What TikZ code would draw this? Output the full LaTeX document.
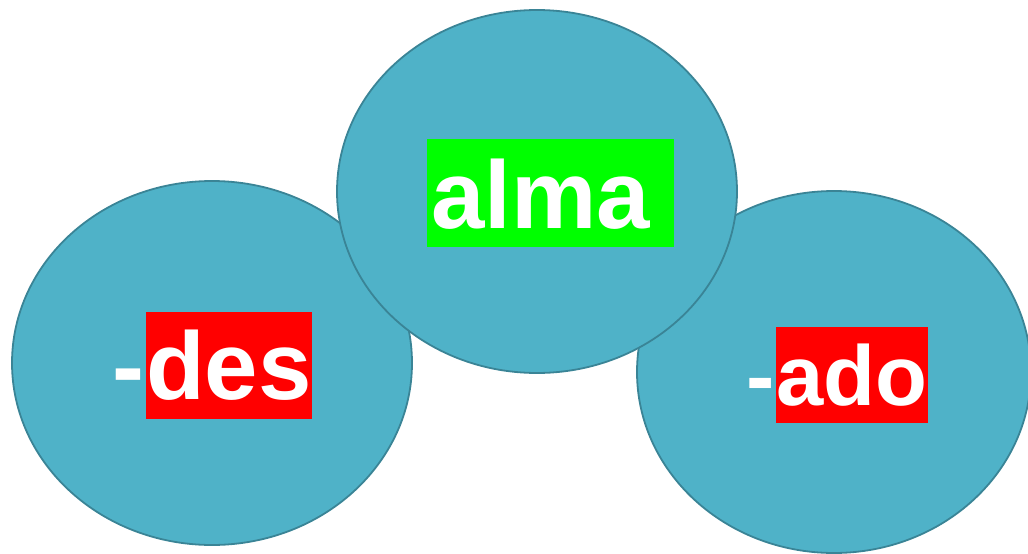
\documentclass[tikz,border=0pt]{standalone}
\usepackage{fontspec}
\setmainfont{Liberation Sans}
\usetikzlibrary{positioning}
\usetikzlibrary{shapes.geometric}
\definecolor{bubblefill}{HTML}{4FB2C8}
\definecolor{bubbleline}{HTML}{3A8496}
\tikzset{
	every node/.style = {font=\bfseries\fontsize{96}{96}\selectfont, text=white},
	bubble/.style = {ellipse, draw=bubbleline, line width=1.8pt, fill=bubblefill, inner sep=0pt},
	wordbox/.style = {inner ysep=0pt, inner xsep=0.5pt, anchor=base west},
	hyph/.style = {inner sep=0pt}
}

\begin{document}
\begin{tikzpicture}[x=1pt, y=-1pt]
		\useasboundingbox (0,0) rectangle (1028,554);
		% bubbles
		\node[bubble, minimum width=400pt, minimum height=364pt] (left) at (212,363) {};
		\node[bubble, minimum width=394pt, minimum height=362pt] (right) at (834,372) {};
		\node[bubble, minimum width=400pt, minimum height=363pt] (middle) at (537,191.5) {};
		
		% words
		\node[wordbox, fill=red, text height=87pt, text depth=20pt] (des) at (145.5,399) {des};
		\node[hyph, base left=1pt of des] (desdash) {-};
		
		\node[wordbox, fill=green, inner xsep=4pt, text width=239pt, align=left, text height=89pt, text depth=19pt] (alma) at (427,228) {alma};
		
		\node[wordbox, fill=red, font=\bfseries\fontsize{85}{85}\selectfont, text height=78pt, text depth=18pt] (ado) at (776,405) {ado};
		\node[hyph, font=\bfseries\fontsize{85}{85}\selectfont, base left=1pt of ado] (adodash) {-};
	\end{tikzpicture}
\end{document}
